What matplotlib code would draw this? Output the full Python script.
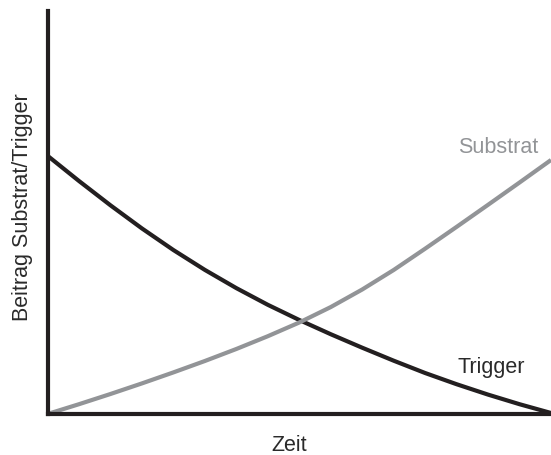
import matplotlib
matplotlib.use("Agg")
import matplotlib.pyplot as plt

zeit = [0, 6.25, 12.5, 18.75, 25, 31.25, 37.5, 43.75, 50, 56.25, 62.5, 68.75, 75, 81.25, 87.5, 93.75, 100]
trigger = [64.09, 57.82, 51.79, 46.05, 40.69, 35.76, 31.24, 27.10, 23.33, 19.80, 16.45, 13.23, 10.17, 7.39, 4.81, 2.43, 0.25]
substrat = [0, 2.43, 4.96, 7.59, 10.32, 13.15, 16.13, 19.30, 22.70, 26.53, 30.89, 35.73, 41.02, 46.43, 51.91, 57.44, 63.03]

plt.rcParams['font.family'] = ['Liberation Sans', 'DejaVu Sans']

W, H = 551, 456
fig = plt.figure(figsize=(W / 100, H / 100), dpi=100)
ax = fig.add_axes([47.5 / W, (H - 415) / H, (W - 47.5) / W, 403 / H])

black = '#231f20'
gray = '#929497'
textc = '#2a2a2a'

ax.plot(zeit, trigger, color=black, lw=3.0, solid_capstyle='butt', solid_joinstyle='round', clip_on=False)
ax.plot(zeit, substrat, color=gray, lw=3.0, solid_capstyle='butt', solid_joinstyle='round', clip_on=False)

ax.set_xlim(0, 100)
ax.set_ylim(0, 100)
for s in ['top', 'right']:
    ax.spines[s].set_visible(False)
for s in ['left', 'bottom']:
    ax.spines[s].set_linewidth(3.0)
    ax.spines[s].set_color(black)
    ax.spines[s].set_capstyle('projecting')
ax.set_xticks([])
ax.set_yticks([])

fs = 15.5
fig.text(289 / W, (H - 451.5) / H, 'Zeit', fontsize=fs, color=textc,
         ha='center', va='baseline')
fig.text(28.3 / W, (H - 206.7) / H, 'Beitrag Substrat/Trigger', fontsize=fs, color=textc,
         rotation=90, rotation_mode='anchor', ha='center', va='baseline')

ax.text(81.5, 64.9, 'Substrat', color=gray, fontsize=fs, ha='left', va='baseline')
ax.text(81.5, 10.35, 'Trigger', color=textc, fontsize=fs, ha='left', va='baseline')

fig.savefig('out.png', dpi=100)
